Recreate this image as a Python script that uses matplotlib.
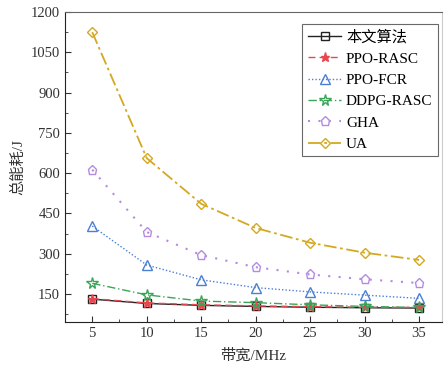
import matplotlib.pyplot as plt
from matplotlib.ticker import MultipleLocator

plt.rcParams['font.family'] = ['Liberation Serif', 'Noto Sans CJK SC']

bandwidth = [5, 10, 15, 20, 25, 30, 35]

ours = [131, 115, 108, 104, 101, 99, 98]
ppo_rasc = [133, 117, 110, 106, 103, 101, 100]
ppo_fcr = [403, 258, 203, 174, 158, 146, 134]
ddpg_rasc = [190, 147, 124, 118, 110, 104, 100]
gha = [613, 381, 295, 250, 223, 205, 191]
ua = [1125, 656, 486, 396, 341, 304, 277]

labels = ['本文算法', 'PPO-RASC', 'PPO-FCR', 'DDPG-RASC', 'GHA', 'UA']

fig = plt.figure(figsize=(4.46, 3.72), dpi=100)
ax = fig.add_axes([65 / 446, 1 - 322 / 372, (442 - 65) / 446, (322 - 12) / 372])

ax.plot(bandwidth, ours, color='#222222', linestyle='-', linewidth=1.0,
        marker='s', markersize=5.5, markerfacecolor='none', markeredgecolor='#222222', label=labels[0])
ax.plot(bandwidth, ppo_rasc, color='#e8474f', linestyle=(0, (5, 3)), linewidth=1.0,
        marker='*', markersize=6.5, markerfacecolor='#e8474f', label=labels[1])
ax.plot(bandwidth, ppo_fcr, color='#4a7fd4', linestyle=(0, (1, 1.5)), linewidth=1.0,
        marker='^', markersize=6.5, markerfacecolor='none', label=labels[2])
ax.plot(bandwidth, ddpg_rasc, color='#3aa55a', linestyle=(0, (6, 2, 1, 2)), linewidth=1.0,
        marker='*', markersize=8.5, markerfacecolor='none', label=labels[3])
ax.plot(bandwidth, gha, color='#b58be0', linestyle=(0, (1, 4)), linewidth=1.5,
        marker='p', markersize=6.5, markerfacecolor='none', label=labels[4])
ax.plot(bandwidth, ua, color='#d4a820', linestyle=(0, (7, 2, 1.5, 2)), linewidth=1.3,
        marker='D', markersize=5.5, markerfacecolor='none', label=labels[5])

ax.set_xlim(2.5, 37.1)
ax.set_ylim(46, 1200)
ax.set_xticks(bandwidth)
ax.set_yticks([150, 300, 450, 600, 750, 900, 1050, 1200])
ax.xaxis.set_minor_locator(MultipleLocator(2.5))
ax.yaxis.set_minor_locator(MultipleLocator(75))
ax.tick_params(which='both', direction='in', top=False, right=False, labelsize=10.5,
               colors='#333333')
ax.tick_params(which='major', length=4)
ax.tick_params(which='minor', length=2)

ax.spines['right'].set_color('#cccccc')
ax.spines['top'].set_color('#666666')
for s in ['left', 'bottom']:
    ax.spines[s].set_color('#222222')

ax.set_xlabel('带宽/MHz', fontsize=11, color='#333333', labelpad=6)
ax.set_ylabel('总能耗/J', fontsize=11, color='#333333', labelpad=4)

leg = ax.legend(loc='upper right', bbox_to_anchor=(0.997, 0.97), fontsize=11,
                frameon=True, fancybox=False, edgecolor='#444444', handlelength=2.2,
                handletextpad=0.3, borderpad=0.35, labelspacing=0.5, borderaxespad=0.2)
leg.get_frame().set_linewidth(0.8)

fig.savefig('out.png', dpi=100)
